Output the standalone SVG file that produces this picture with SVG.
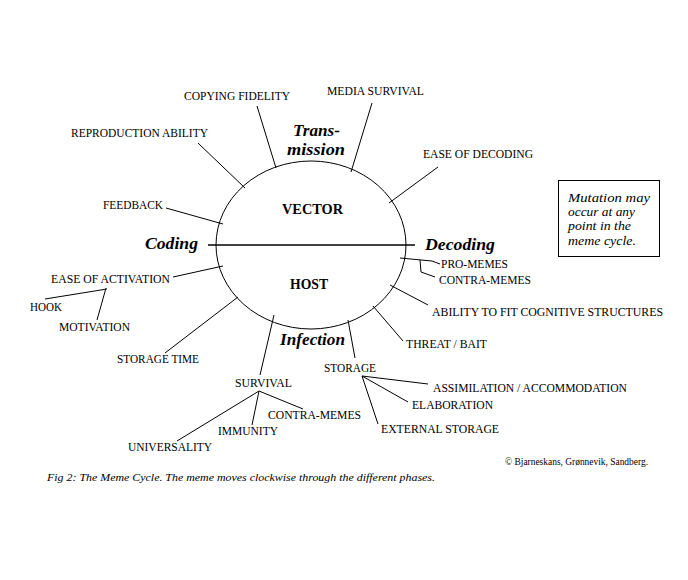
<svg xmlns="http://www.w3.org/2000/svg" width="688" height="580" viewBox="0 0 688 580">
<style>
.lbl{font-family:"Liberation Serif",serif;font-size:11.5px;fill:#000}
.ph{font-family:"Liberation Serif",serif;font-size:17px;font-weight:bold;font-style:italic;fill:#000}
.tm{font-size:16px}
.core{font-family:"Liberation Serif",serif;font-size:14px;font-weight:bold;fill:#000}
.note{font-family:"Liberation Serif",serif;font-size:13px;font-style:italic;fill:#000}
.cap{font-family:"Liberation Serif",serif;font-size:11px;font-style:italic;fill:#000}
.copy{font-family:"Liberation Serif",serif;font-size:9.5px;fill:#000}
.ln{stroke:#000;stroke-width:1;fill:none}
</style>
<rect width="688" height="580" fill="#fff"/>
<g id="cycle">
<ellipse cx="311" cy="245" rx="95" ry="84" class="ln"/>
<line x1="208" y1="245" x2="415" y2="245" stroke="#000" stroke-width="1.4"/>
<text class="core" x="282" y="214" textLength="61" lengthAdjust="spacingAndGlyphs">VECTOR</text>
<text class="core" x="290" y="289" textLength="38" lengthAdjust="spacingAndGlyphs">HOST</text>
</g>
<g id="phases">
<text class="ph tm" x="293" y="136" textLength="47" lengthAdjust="spacingAndGlyphs">Trans-</text>
<text class="ph tm" x="287" y="155" textLength="58" lengthAdjust="spacingAndGlyphs">mission</text>
<text class="ph" x="145" y="249" textLength="53" lengthAdjust="spacingAndGlyphs">Coding</text>
<text class="ph" x="425" y="250" textLength="70" lengthAdjust="spacingAndGlyphs">Decoding</text>
<text class="ph" x="280" y="345" textLength="65" lengthAdjust="spacingAndGlyphs">Infection</text>
</g>
<g id="connectors" class="ln">
<line x1="198" y1="143" x2="245" y2="188"/>
<line x1="257" y1="106" x2="276" y2="168"/>
<line x1="372" y1="103" x2="351" y2="172"/>
<line x1="438" y1="167" x2="389" y2="203"/>
<line x1="166" y1="208" x2="223" y2="224"/>
<line x1="173" y1="277" x2="223" y2="266"/>
<line x1="45" y1="299" x2="107" y2="289"/>
<line x1="106" y1="288" x2="97" y2="320"/>
<line x1="238" y1="297" x2="165" y2="353"/>
<line x1="274" y1="315" x2="260" y2="375"/>
<line x1="259" y1="391" x2="177" y2="441"/>
<line x1="259" y1="391" x2="252" y2="425"/>
<line x1="259" y1="391" x2="303" y2="409"/>
<line x1="348" y1="320" x2="355" y2="358"/>
<line x1="362" y1="376" x2="428" y2="384"/>
<line x1="362" y1="376" x2="408" y2="402"/>
<line x1="362" y1="376" x2="378" y2="424"/>
<line x1="373" y1="306" x2="403" y2="341"/>
<line x1="390" y1="285" x2="428" y2="305"/>
<polyline points="400,258 432,261 440,264"/>
<polyline points="420,260 421,272 435,277"/>
</g>
<g id="labels">
<text class="lbl" x="184" y="100" textLength="106" lengthAdjust="spacingAndGlyphs">COPYING FIDELITY</text>
<text class="lbl" x="327" y="95" textLength="97" lengthAdjust="spacingAndGlyphs">MEDIA SURVIVAL</text>
<text class="lbl" x="71" y="137" textLength="137" lengthAdjust="spacingAndGlyphs">REPRODUCTION ABILITY</text>
<text class="lbl" x="423" y="158" textLength="110" lengthAdjust="spacingAndGlyphs">EASE OF DECODING</text>
<text class="lbl" x="103" y="209" textLength="60" lengthAdjust="spacingAndGlyphs">FEEDBACK</text>
<text class="lbl" x="51" y="283" textLength="119" lengthAdjust="spacingAndGlyphs">EASE OF ACTIVATION</text>
<text class="lbl" x="30" y="311" textLength="32" lengthAdjust="spacingAndGlyphs">HOOK</text>
<text class="lbl" x="59" y="331" textLength="71" lengthAdjust="spacingAndGlyphs">MOTIVATION</text>
<text class="lbl" x="117" y="363" textLength="82" lengthAdjust="spacingAndGlyphs">STORAGE TIME</text>
<text class="lbl" x="235" y="387" textLength="57" lengthAdjust="spacingAndGlyphs">SURVIVAL</text>
<text class="lbl" x="268" y="419" textLength="93" lengthAdjust="spacingAndGlyphs">CONTRA-MEMES</text>
<text class="lbl" x="218" y="435" textLength="60" lengthAdjust="spacingAndGlyphs">IMMUNITY</text>
<text class="lbl" x="128" y="451" textLength="84" lengthAdjust="spacingAndGlyphs">UNIVERSALITY</text>
<text class="lbl" x="324" y="372" textLength="52" lengthAdjust="spacingAndGlyphs">STORAGE</text>
<text class="lbl" x="433" y="392" textLength="194" lengthAdjust="spacingAndGlyphs">ASSIMILATION / ACCOMMODATION</text>
<text class="lbl" x="412" y="409" textLength="81" lengthAdjust="spacingAndGlyphs">ELABORATION</text>
<text class="lbl" x="381" y="433" textLength="118" lengthAdjust="spacingAndGlyphs">EXTERNAL STORAGE</text>
<text class="lbl" x="406" y="348" textLength="81" lengthAdjust="spacingAndGlyphs">THREAT / BAIT</text>
<text class="lbl" x="432" y="316" textLength="231" lengthAdjust="spacingAndGlyphs">ABILITY TO FIT COGNITIVE STRUCTURES</text>
<text class="lbl" x="441" y="268" textLength="67" lengthAdjust="spacingAndGlyphs">PRO-MEMES</text>
<text class="lbl" x="439" y="284" textLength="92" lengthAdjust="spacingAndGlyphs">CONTRA-MEMES</text>
</g>
<g id="mutation-note">
<rect x="558.5" y="180.5" width="101" height="76" class="ln"/>
<text class="note" x="568" y="202" textLength="82" lengthAdjust="spacingAndGlyphs">Mutation may</text>
<text class="note" x="568" y="216" textLength="67" lengthAdjust="spacingAndGlyphs">occur at any</text>
<text class="note" x="568" y="230" textLength="63" lengthAdjust="spacingAndGlyphs">point in the</text>
<text class="note" x="568" y="245" textLength="68" lengthAdjust="spacingAndGlyphs">meme cycle.</text>
</g>
<g id="caption">
<text class="copy" x="505" y="465" textLength="143" lengthAdjust="spacingAndGlyphs">© Bjarneskans, Grønnevik, Sandberg.</text>
<text class="cap" x="47" y="481" textLength="388" lengthAdjust="spacingAndGlyphs">Fig 2: The Meme Cycle.  The meme moves clockwise through the different phases.</text>
</g>
</svg>
